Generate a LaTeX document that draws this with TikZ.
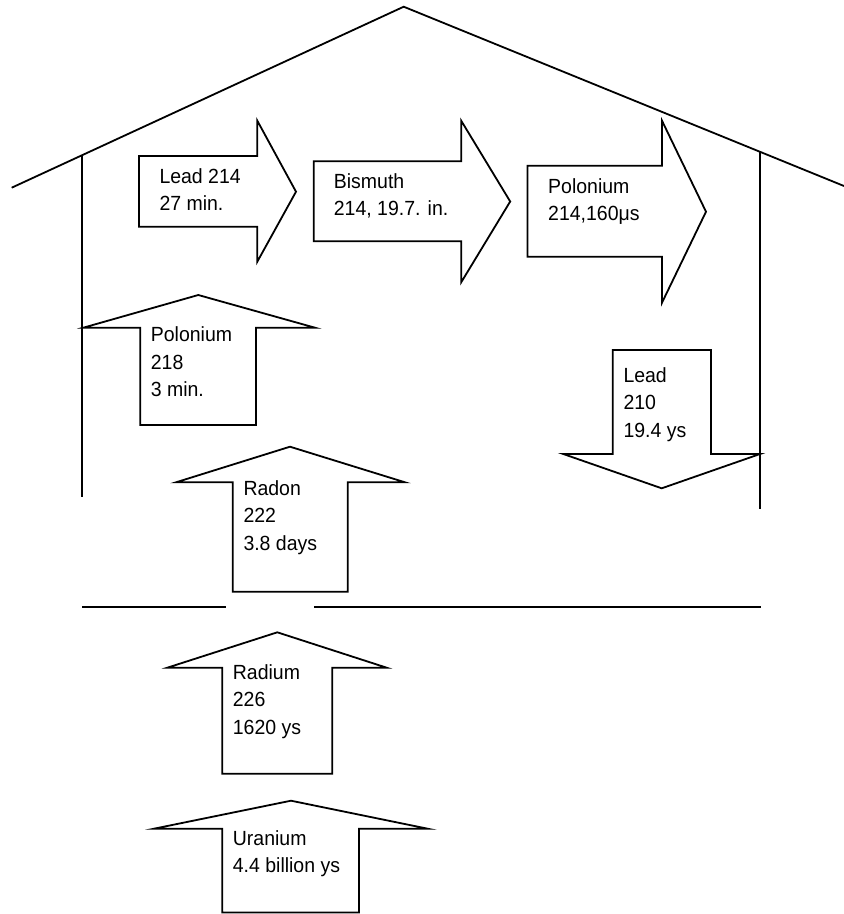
\documentclass[tikz,border=0pt]{standalone}
\usepackage{fontspec}
\setmainfont[FakeStretch=0.95]{Liberation Sans}
\begin{document}
\begin{tikzpicture}[x=1pt,y=-1pt,
  wall/.style={draw, line width=1.8pt},
  arw/.style={draw, line width=1.8pt, line join=miter},
  lbl/.style={anchor=base west, inner sep=0pt, font=\fontsize{20.5}{27.5}\selectfont}]
\useasboundingbox (0,0) rectangle (844,914);
% house
\coordinate (roofL) at (11.7,187.7);
\coordinate (peak) at (403.7,6.7);
\coordinate (roofR) at (844,186);
\coordinate (wallLt) at (82.3,156);
\coordinate (wallLb) at (82.3,497.3);
\coordinate (wallRt) at (760,151.7);
\coordinate (wallRb) at (760,509.3);
\coordinate (floorA) at (82,606.7);
\coordinate (floorB) at (225.7,606.7);
\coordinate (floorC) at (314,606.7);
\coordinate (floorD) at (760.7,606.7);
\draw[wall] (roofL) -- (peak) -- (roofR);
\draw[wall] (wallLt) -- (wallLb);
\draw[wall] (wallRt) -- (wallRb);
\draw[wall] (floorA) -- (floorB);
\draw[wall] (floorC) -- (floorD);
% right arrows
\draw[arw] (138.9,156) -- (257.3,156) -- (257.3,120.7) -- (296,191.7) -- (257.3,261.7) -- (257.3,226.7) -- (138.9,226.7) -- cycle;
\draw[arw] (313.8,161.3) -- (461.2,161.3) -- (461.2,120.7) -- (510.2,201.5) -- (461.2,282.3) -- (461.2,241.3) -- (313.8,241.3) -- cycle;
\draw[arw] (527.4,165.7) -- (662,165.7) -- (662,120.7) -- (706,211.7) -- (662,302.7) -- (662,256.7) -- (527.4,256.7) -- cycle;
% up arrows
\draw[arw] (198.3,295) -- (315,327.7) -- (256,327.7) -- (256,425) -- (140.3,425) -- (140.3,327.7) -- (83.3,327.7) -- cycle;
\draw[arw] (290,446.7) -- (405,482.3) -- (347.7,482.3) -- (347.7,591.7) -- (232.7,591.7) -- (232.7,482.3) -- (176,482.3) -- cycle;
\draw[arw] (277.3,632.3) -- (386.7,667.7) -- (332.3,667.7) -- (332.3,773.7) -- (222.3,773.7) -- (222.3,667.7) -- (167.3,667.7) -- cycle;
\draw[arw] (291,800.7) -- (427.7,828.7) -- (359,828.7) -- (359,912.5) -- (222.3,912.5) -- (222.3,828.7) -- (154,828.7) -- cycle;
% down arrow
\draw[arw] (612.7,350) -- (711,350) -- (711,454) -- (760,454) -- (661.7,488.3) -- (563.3,454) -- (612.7,454) -- cycle;
% labels
\node[lbl] (tPb214) at (159.3,183) {\begin{tabular}[t]{@{}l@{}}Lead 214\\27 min.\end{tabular}};
\node[lbl] (tBi214) at (333.7,188) {\begin{tabular}[t]{@{}l@{}}Bismuth\\214, 19.7. in.\end{tabular}};
\node[lbl] (tPo214) at (548,193.3) {\begin{tabular}[t]{@{}l@{}}Polonium\\214,160μs\end{tabular}};
\node[lbl] (tPo218) at (150.7,341.7) {\begin{tabular}[t]{@{}l@{}}Polonium\\218\\3 min.\end{tabular}};
\node[lbl] (tRn222) at (243.3,495) {\begin{tabular}[t]{@{}l@{}}Radon\\222\\3.8 days\end{tabular}};
\node[lbl] (tPb210) at (623.3,382.3) {\begin{tabular}[t]{@{}l@{}}Lead\\210\\19.4 ys\end{tabular}};
\node[lbl] (tRa226) at (232.7,679.3) {\begin{tabular}[t]{@{}l@{}}Radium\\226\\1620 ys\end{tabular}};
\node[lbl] (tU) at (232.7,845) {\begin{tabular}[t]{@{}l@{}}Uranium\\4.4 billion ys\end{tabular}};
\end{tikzpicture}
\end{document}
